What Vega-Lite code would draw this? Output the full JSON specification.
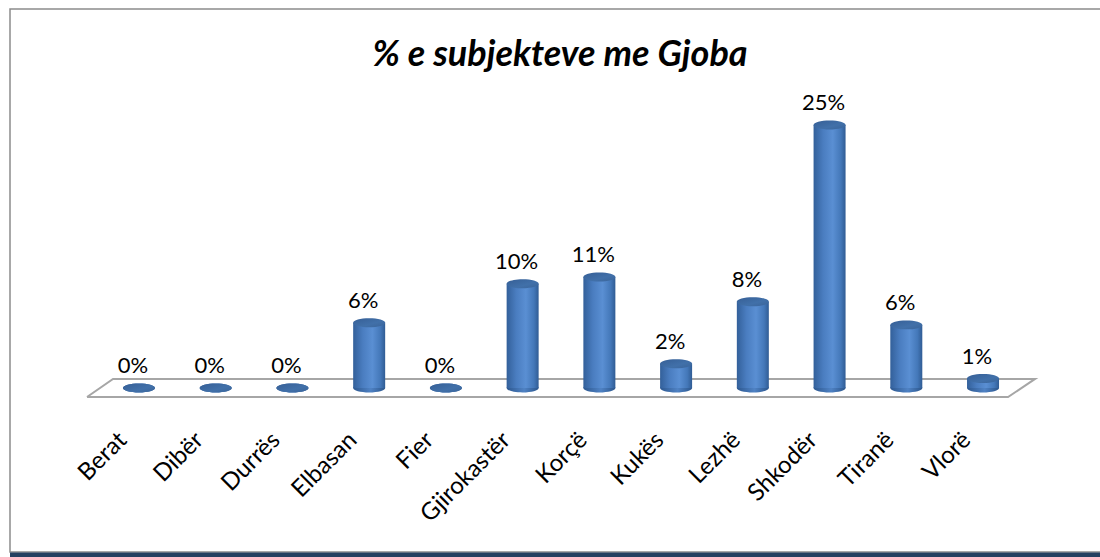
{
  "$schema": "https://vega.github.io/schema/vega-lite/v6.json",
  "autosize": "none",
  "width": 1100,
  "height": 543,
  "padding": {"left": 10, "top": 9, "right": 0, "bottom": 5},
  "background": "white",
  "config": {
    "view": {"stroke": "#8c8c8c", "strokeWidth": 1.5},
    "text": {"font": "Lato"}
  },
  "title": {
    "text": "% e subjekteve me Gjoba",
    "font": "Lato",
    "fontSize": 36,
    "fontStyle": "italic",
    "fontWeight": "bold",
    "color": "#000000",
    "anchor": "middle",
    "baseline": "alphabetic",
    "offset": -93
  },
  "datasets": {
    "bars": [
      {"city": "Berat", "v": 0},
      {"city": "Dibër", "v": 0},
      {"city": "Durrës", "v": 0},
      {"city": "Elbasan", "v": 0.062},
      {"city": "Fier", "v": 0},
      {"city": "Gjirokastër", "v": 0.099},
      {"city": "Korçë", "v": 0.1055},
      {"city": "Kukës", "v": 0.023},
      {"city": "Lezhë", "v": 0.082},
      {"city": "Shkodër", "v": 0.25},
      {"city": "Tiranë", "v": 0.06},
      {"city": "Vlorë", "v": 0.009}
    ],
    "floor": [
      {"i": 0, "fx": -0.677, "fy": -0.0086},
      {"i": 1, "fx": -0.338, "fy": 0.0086},
      {"i": 2, "fx": 11.678, "fy": 0.0086},
      {"i": 3, "fx": 11.326, "fy": -0.0086},
      {"i": 4, "fx": -0.677, "fy": -0.0086}
    ]
  },
  "resolve": {"scale": {"x": "independent"}},
  "layer": [
    {
      "data": {"name": "floor"},
      "mark": {"type": "line", "stroke": "#a6a6a6", "strokeWidth": 2},
      "encoding": {
        "x": {"field": "fx", "type": "quantitative", "axis": null,
              "scale": {"domain": [-0.5, 11.5], "range": [90.6, 1011.4], "zero": false, "nice": false}},
        "y": {"field": "fy", "type": "quantitative", "axis": null,
              "scale": {"domain": [0, 0.25], "range": [379, 116], "zero": false, "nice": false}},
        "order": {"field": "i", "type": "quantitative"}
      }
    },
    {
      "data": {"name": "bars"},
      "encoding": {
        "x": {"field": "city", "type": "nominal", "sort": null, "axis": null,
              "scale": {"type": "band", "range": [90.6, 1011.4], "paddingInner": 0, "paddingOuter": 0}}
      },
      "layer": [
        {
          "mark": {"type": "point", "filled": true, "opacity": 1, "strokeWidth": 0,
                   "shape": "M-1,0 A1,0.28 0 1,0 1,0 A1,0.28 0 1,0 -1,0 Z", "size": 1024,
                   "color": {"gradient": "linear", "x1": 0, "y1": 0, "x2": 1, "y2": 0,
                             "stops": [{"offset": 0, "color": "#2d5890"}, {"offset": 0.55, "color": "#4f82c4"}, {"offset": 1, "color": "#2b568c"}]}},
          "encoding": {
            "y": {"datum": 0, "type": "quantitative", "scale": {"domain": [0, 0.25], "range": [379, 116], "zero": false, "nice": false}}
          }
        },
        {
          "mark": {"type": "bar", "width": 32,
                   "color": {"gradient": "linear", "x1": 0, "y1": 0, "x2": 1, "y2": 0,
                             "stops": [{"offset": 0, "color": "#33609a"}, {"offset": 0.3, "color": "#4a7dc0"}, {"offset": 0.6, "color": "#5a8fd3"}, {"offset": 0.85, "color": "#4478b9"}, {"offset": 1, "color": "#305c94"}]}},
          "encoding": {
            "y": {"field": "v", "type": "quantitative", "scale": {"domain": [0, 0.25], "range": [379, 116], "zero": false, "nice": false}},
            "y2": {"datum": 0}
          }
        },
        {
          "mark": {"type": "point", "filled": true, "opacity": 1, "strokeWidth": 0,
                   "shape": "M-1,0 A1,0.28 0 1,0 1,0 A1,0.28 0 1,0 -1,0 Z", "size": 1024,
                   "color": {"gradient": "linear", "x1": 0, "y1": 0, "x2": 1, "y2": 1,
                             "stops": [{"offset": 0, "color": "#365f96"}, {"offset": 0.6, "color": "#4170a9"}, {"offset": 1, "color": "#3a6499"}]}},
          "encoding": {
            "y": {"field": "v", "type": "quantitative", "scale": {"domain": [0, 0.25], "range": [379, 116], "zero": false, "nice": false}}
          }
        },
        {
          "mark": {"type": "text", "font": "Lato", "fontSize": 22, "color": "#000000", "baseline": "alphabetic", "align": "center", "dx": -6, "dy": -15},
          "encoding": {
            "y": {"field": "v", "type": "quantitative", "scale": {"domain": [0, 0.25], "range": [379, 116], "zero": false, "nice": false}},
            "text": {"field": "v", "type": "quantitative", "format": ".0%"}
          }
        },
        {
          "mark": {"type": "text", "font": "Lato", "fontSize": 24, "color": "#000000", "baseline": "alphabetic", "align": "right", "angle": 315, "xOffset": -11},
          "encoding": {
            "y": {"datum": -0.051, "type": "quantitative", "scale": {"domain": [0, 0.25], "range": [379, 116], "zero": false, "nice": false}},
            "text": {"field": "city", "type": "nominal"}
          }
        }
      ]
    },
    {
      "data": {"values": [{}]},
      "mark": {"type": "rule", "stroke": "#243f60", "strokeWidth": 5},
      "encoding": {
        "y": {"datum": -0.1587, "type": "quantitative", "scale": {"domain": [0, 0.25], "range": [379, 116], "zero": false, "nice": false}}
      }
    }
  ]
}
